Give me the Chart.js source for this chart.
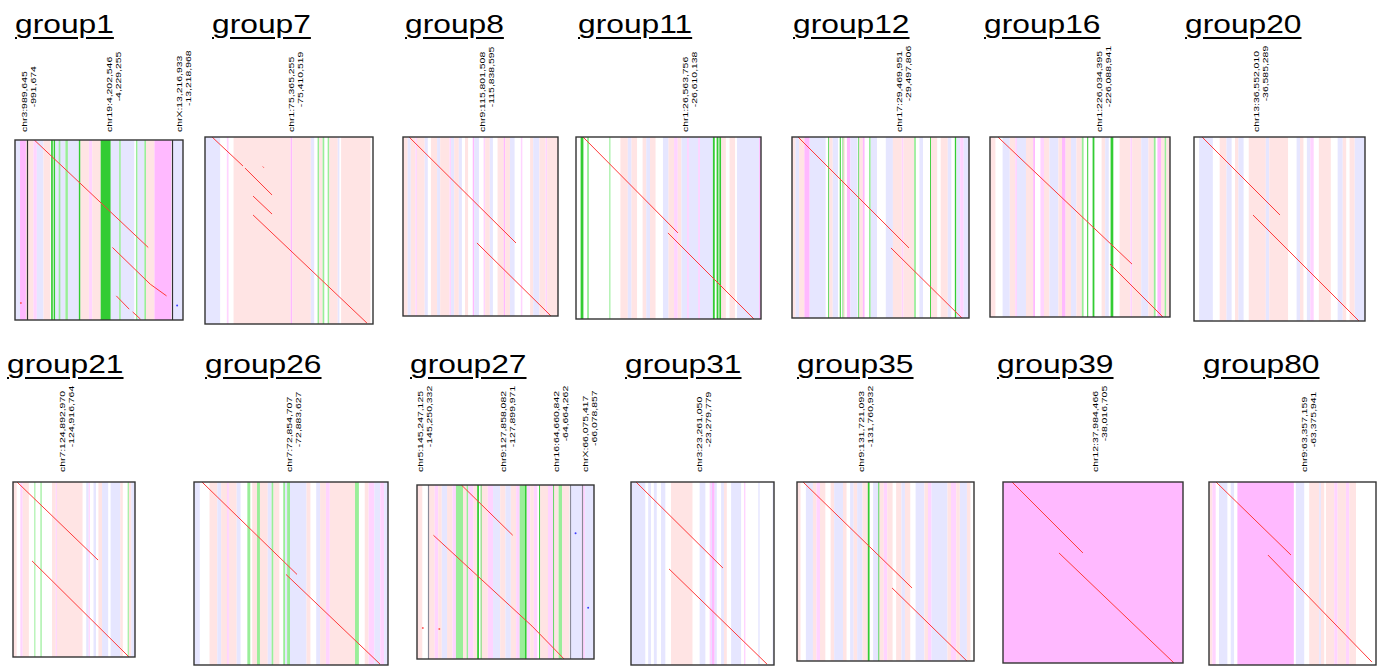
<!DOCTYPE html>
<html>
<head>
<meta charset="utf-8">
<script src="https://cdn.jsdelivr.net/npm/chart.js@4.4.1/dist/chart.umd.min.js"></script>
<style>
body{margin:0;background:#fff;width:1378px;height:667px;overflow:hidden;position:relative;font-family:"Liberation Sans",Arial,sans-serif}
.title{position:absolute;font-size:25px;line-height:25px;text-decoration:underline;text-decoration-thickness:2px;text-underline-offset:4px;transform-origin:0 0;transform:scaleX(1.27);white-space:nowrap;color:#000}
.lab{position:absolute;font-size:8px;line-height:9px;white-space:nowrap;text-align:right;transform-origin:0 0;transform:rotate(-90deg) scaleX(1.3);color:#000}
.lab div.l2{position:relative;left:4px}
canvas{position:absolute}
</style>
</head>
<body>
<script>
// ---- data ----
const groupNames = ['group1','group7','group8','group11','group12','group16','group20',
  'group21','group26','group27','group31','group35','group39','group80'];

const regionLabels = [
  [['chr3:989,645','-991,674'],['chr19:4,202,546','-4,229,255'],['chrX:13,216,933','-13,218,968']],
  [['chr1:75,365,255','-75,410,519']],
  [['chr9:115,801,508','-115,838,595']],
  [['chr1:26,563,756','-26,610,138']],
  [['chr17:29,469,951','-29,497,806']],
  [['chr1:226,034,395','-226,088,941']],
  [['chr13:36,552,010','-36,585,289']],
  [['chr7:124,892,970','-124,916,764']],
  [['chr7:72,854,707','-72,883,627']],
  [['chr5:145,247,125','-145,250,332'],['chr9:127,858,082','-127,899,971'],['chr16:64,660,842','-64,664,262'],['chrX:66,075,417','-66,078,857']],
  [['chr3:23,261,050','-23,279,779']],
  [['chr9:131,721,093','-131,760,932']],
  [['chr12:37,984,466','-38,016,705']],
  [['chr9:63,357,159','-63,375,941']]
];
// label anchor along x axis (0-100 of panel)
const regionLabelX = [[9.8,58.9,99.1],[53.9],[53.9],[61.6],[63.3],[63.1],[39.2],
  [43.9],[51.3],[6.0,51.6,80.6,96.2],[50.7],[39.0],[53.9],[59.6]];

// alignment polylines, x / y in 0-100 of panel, y from top
const alignSegments = [
  [[[11.5,0],[79.3,59.7]],[[58.0,59.7],[80.5,80.1],[90.2,86.6]],[[60.3,86.6],[68,94]],[[70,95.5],[74.7,99.5]]],
  [[[4.2,0],[22.6,15.5]],[[23.8,16.6],[39.9,31.0]],[[34.4,15.8],[35.0,16.4]],[[28.6,31.6],[39.9,41.2]],[[28.6,41.7],[96.4,99.5]]],
  [[[3.9,0],[72.9,59.2]],[[47.7,59.2],[95.5,100]]],
  [[[3.8,0],[55.1,52.7]],[[49.7,52.7],[96.2,100]]],
  [[[3.4,0],[66.1,61.3]],[[55.9,61.3],[96.0,100]]],
  [[[4.4,0],[78.9,70.6]],[[66.7,70.6],[96.1,100]]],
  [[[4.7,0],[50.3,42.4]],[[34.5,42.4],[96.5,100]]],
  [[[3.3,0],[69.7,44.6]],[[15.6,45.1],[95.1,100]]],
  [[[4.1,0],[53.1,50.5]],[[47.4,50.5],[95.9,99.5]]],
  [[[25.1,0],[54.1,28.9]],[[9.3,28.9],[52.5,69.4],[65.0,81.1],[83.1,100]]],
  [[[3.5,0],[64.3,47.0]],[[26.6,47.5],[95.1,99.5]]],
  [[[3.4,0],[65.0,59.2]],[[53.7,59.2],[96.0,100]]],
  [[[5.0,0],[44.4,39.2]],[[31.1,39.2],[95.0,100]]],
  [[[4.2,0],[49.1,39.9]],[[35.3,39.9],[97.6,98.4]]]
];

// isolated hits [x, y, colour code]
const extraDots = [
  [[3.5,90.5,'r'],[96.5,92,'b']],[],[],[],[],[],[],[],[],
  [[89.6,27.8,'b'],[96.7,70.6,'b'],[3.3,82.2,'r'],[12.6,82.8,'r']],
  [],[],[],[]
];

// chromosome break lines (x, 0-100)
const chromBreaks = [[6.9,93.7],[],[],[],[],[],[],[],[],[6.4,86.3,93.2],[],[],[],[]];
const breakColors = ['#333','','','','','','','','','#8a8a99','','','',''];

// track bands [from, to, class]
const trackBands = [
  [[0,3,'L'],[3,6.5,'M'],[6.5,11,'P'],[11,13,'m'],[13,17,'L'],[17,21,'P'],[21.5,22.5,'G'],[23,24,'G'],[24,30,'L'],[26,27,'g'],
   [30,31.5,'g'],[31.5,38,'L'],[38,39,'G'],[39,44,'P'],[44,46,'m'],[46,51,'P'],[51,57,'G'],[57,62,'L'],[62,63,'g'],[63,71,'L'],
   [72,73,'g'],[73,77,'L'],[77,78,'g'],[78,83,'P'],[83,93,'M'],[94,100,'L']],
  [[0,9,'L'],[13,14,'m'],[17,51,'P'],[51,52,'M'],[52,63,'P'],[63,65,'L'],[67,68,'g'],[68,70,'P'],[70,71,'g'],[73,74,'g'],
   [74,79,'P'],[79,80,'L'],[81,98.5,'P']],
  [[0,3,'P'],[3,5,'L'],[5,8,'P'],[8,9,'m'],[9,14,'P'],[14,16,'L'],[18,22,'P'],[22,24,'L'],[24,30,'P'],[30,31,'m'],[31,33,'L'],
   [33,36,'P'],[36,38,'L'],[40,42,'P'],[45,46,'M'],[46,49,'L'],[52,53,'m'],[53,56,'P'],[56,58,'L'],[61,65,'P'],[65,66,'M'],
   [66,69,'P'],[69,72,'L'],[76,77,'m'],[82,84,'P'],[84,88,'L'],[88,92,'P'],[92,93,'m'],[93,100,'P']],
  [[2.5,4,'G'],[6,7,'g'],[18,18.6,'g'],[24,28,'P'],[28,30,'L'],[30,33,'P'],[36,38,'P'],[38,40,'L'],[40,43,'P'],[47,50,'L'],
   [50,53,'P'],[53,55,'m'],[55,57,'P'],[57,74,'L'],[60,61,'m'],[66,67,'m'],[74,75,'G'],[76,77,'G'],[77.5,78.5,'G'],[78.5,81,'P'],
   [83,86,'P'],[87,99,'L'],[99,100,'M']],
  [[0,2,'P'],[2,4,'L'],[4,7,'P'],[7,10,'M'],[10,19,'L'],[20.5,21,'G'],[21,23,'P'],[23,26,'L'],[27,27.5,'G'],[28.6,29,'G'],
   [29,30,'P'],[31,33,'M'],[33,37,'L'],[37.5,38,'G'],[38,40,'P'],[40,41,'M'],[43.5,44.5,'g'],[44.5,48,'L'],[53,57,'L'],
   [57,62,'P'],[62,63,'m'],[63,69,'P'],[69,70,'g'],[72,74,'L'],[78,78.5,'G'],[78.5,82,'P'],[84,88,'P'],[88,90,'L'],
   [92,92.8,'G'],[93,95,'L'],[95,97,'m'],[97,100,'L']],
  [[0,3,'P'],[7,11,'L'],[11,14,'P'],[14,15,'m'],[15,20,'L'],[20,24,'P'],[24,25,'M'],[28,30,'m'],[30,33,'P'],[33,38,'L'],
   [38,40,'P'],[40,42,'M'],[42,45,'P'],[45,48,'L'],[48,51,'P'],[51,52,'g'],[54,54.5,'G'],[57,58,'G'],[62,64,'P'],[64,66,'L'],
   [67,68.5,'G'],[72,78,'P'],[78,79,'m'],[79,84,'P'],[84,88,'L'],[88,91,'P'],[91,92,'g'],[93,95,'M'],[95,97,'P'],[97,98,'g'],
   [98,100,'P']],
  [[3,11,'L'],[15,19,'P'],[19,22,'L'],[24,26,'P'],[26,29,'L'],[32,42,'P'],[42,44,'L'],[44,55,'P'],[60,62,'L'],[62,64,'P'],
   [66,68,'L'],[68,70,'m'],[73,80,'P'],[84,87,'L'],[87,89,'P'],[91,94,'P'],[94,100,'L']],
  [[0,3,'P'],[6,8,'m'],[8,13,'P'],[17.5,18.3,'g'],[22.5,23.5,'g'],[32,35,'P'],[35,36,'m'],[36,57,'P'],[60,62,'L'],[62,63,'m'],
   [66,68,'L'],[70,73,'P'],[73,78,'L'],[80,88,'L'],[88,90,'P'],[94,95,'g'],[95,97,'P'],[97,100,'L']],
  [[0,3,'L'],[8,12,'P'],[12,14,'L'],[14,17,'P'],[17,18,'m'],[18,22,'P'],[22,24,'L'],[27.5,29,'g'],[30,33,'P'],[32.5,34,'g'],
   [34,38,'P'],[38,40,'L'],[40,41,'g'],[41,44,'P'],[46,47,'g'],[47,48,'L'],[48,49.5,'g'],[49.5,58,'L'],[58,60,'P'],[63,65,'L'],
   [65,68,'P'],[68,70,'m'],[70,83,'P'],[83,85,'g'],[88,90,'P'],[90,93,'m'],[93,96,'L'],[96,98,'m'],[98,100,'L']],
  [[0,3,'P'],[6.5,10,'P'],[10,12,'m'],[12,14,'P'],[14,17,'L'],[17,20,'P'],[20,22,'m'],[22,26,'g'],[26,28,'P'],[28,29,'g'],
   [29,32,'m'],[32,34,'P'],[34,35,'G'],[36,36.5,'G'],[36.5,40,'P'],[40,43,'m'],[43,47,'L'],[47,50,'P'],[50,53,'L'],[53,56,'P'],
   [56,58,'m'],[58,61,'g'],[61,62,'G'],[62,64,'m'],[64,66,'P'],[66,68,'m'],[69,69.6,'G'],[69.6,74,'P'],[74,77,'m'],[77,77.5,'G'],
   [77.5,80,'P'],[80,82,'g'],[82,86,'P'],[87,93,'L'],[93,95,'m'],[95,100,'L']],
  [[0,10,'L'],[12,14,'L'],[16,18,'L'],[21,24,'L'],[28,43,'P'],[48,52,'L'],[55,56,'m'],[56,56.5,'L'],[56.5,58.5,'M'],[58.5,60,'L'],
   [63,65,'L'],[65,67,'P'],[70,77,'L'],[79,80,'m'],[89,90,'L'],[99,100,'L']],
  [[0,2,'P'],[5,9,'L'],[9,11,'P'],[11,13,'m'],[13,16,'P'],[19,21,'P'],[21,26,'L'],[26,28,'P'],[30,32,'L'],[32,34,'P'],[34,37,'L'],
   [37,40,'P'],[40,41,'G'],[43,46,'L'],[46,46.6,'G'],[46.6,49,'P'],[49,51,'m'],[51,54,'P'],[56,59,'P'],[59,61,'L'],[61,64,'P'],
   [67,72,'L'],[72,74,'P'],[74,76,'m'],[76,85,'L'],[85,87,'P'],[87,90,'m'],[90,92,'P'],[92,96,'L'],[96,98,'P']],
  [[0,100,'M']],
  [[0,2,'P'],[2,4,'m'],[6,11,'L'],[13,15,'L'],[17,50.8,'M'],[52,57,'L'],[60,66,'P'],[66,67,'L'],[67,69,'P'],[70,75,'P'],
   [75,77,'m'],[77,82,'P'],[82,84,'m'],[84,88,'P']]
];

// ---- layout ----
const panelBoxes = [
  [12,137,186,323],[205,137,373,324],[403,137,558,316],[576,137,761,319],[792,137,969,318],[990,137,1170,317],[1194,137,1365,321],
  [13,482,135,657],[194,482,388,665],[414,482,597,662],[631,482,774,665],[797,482,974,661],[1003,482,1183,663],[1209,482,1376,665]
];
const titleX = [15,212,405,578,793,984,1185,7,205,410,625,797,997,1203];

const bandColors = {P:'#ffe4e4',L:'#e6e6ff',M:'#ffb9ff',m:'#ffd4ff',G:'#33cc33',g:'#99ee99'};
const dotColors = {r:'#ff6060',b:'#4040ff'};

groupNames.forEach((name, i) => {
  const [L, T, R, B] = panelBoxes[i];
  const row = i < 7 ? 0 : 1;

  const t = document.createElement('div');
  t.className = 'title';
  t.textContent = name;
  t.style.left = titleX[i] + 'px';
  t.style.top = (row ? 352 : 12) + 'px';
  document.body.appendChild(t);

  regionLabels[i].forEach((lines, k) => {
    const d = document.createElement('div');
    d.className = 'lab';
    d.innerHTML = '<div>' + lines[0] + '</div><div class="l2">' + lines[1] + '</div>';
    d.style.left = (L + regionLabelX[i][k] / 100 * (R - L) - 9) + 'px';
    d.style.top = (row ? 472 : 132) + 'px';
    document.body.appendChild(d);
  });

  const c = document.createElement('canvas');
  c.width = R - L + 2;
  c.height = B - T + 2;
  c.style.left = (L - 1) + 'px';
  c.style.top = (T - 1) + 'px';
  document.body.appendChild(c);

  const bands = trackBands[i];
  const breaks = chromBreaks[i];
  const panelPlugin = {
    id: 'panel' + i,
    beforeDatasetsDraw(chart) {
      const ctx = chart.ctx, a = chart.chartArea, x = chart.scales.x;
      ctx.save();
      bands.forEach(b => {
        const x0 = x.getPixelForValue(b[0]), x1 = x.getPixelForValue(b[1]);
        ctx.fillStyle = bandColors[b[2]];
        ctx.fillRect(x0, a.top, Math.max(1, x1 - x0), a.bottom - a.top);
      });
      ctx.strokeStyle = breakColors[i];
      ctx.lineWidth = 1.2;
      breaks.forEach(v => {
        const px = Math.round(x.getPixelForValue(v)) + 0.5;
        ctx.beginPath(); ctx.moveTo(px, a.top); ctx.lineTo(px, a.bottom); ctx.stroke();
      });
      ctx.restore();
    },
    afterDraw(chart) {
      const ctx = chart.ctx, a = chart.chartArea;
      ctx.save();
      ctx.strokeStyle = '#333';
      ctx.lineWidth = 1.4;
      ctx.strokeRect(a.left, a.top, a.right - a.left, a.bottom - a.top);
      ctx.restore();
    }
  };

  const datasets = alignSegments[i].map(s => ({
    data: s.map(p => ({x: p[0], y: p[1]})),
    showLine: true, borderColor: '#ff3a3a', borderWidth: 1, pointRadius: 0, tension: 0
  }));
  extraDots[i].forEach(d => datasets.push({
    data: [{x: d[0], y: d[1]}], pointRadius: 1, pointBorderWidth: 0,
    pointBackgroundColor: dotColors[d[2]], showLine: false
  }));

  new Chart(c, {
    type: 'scatter',
    data: {datasets},
    options: {
      responsive: false, animation: false, events: [],
      layout: {padding: 1},
      plugins: {legend: {display: false}, tooltip: {enabled: false}},
      scales: {
        x: {type: 'linear', min: 0, max: 100, display: false},
        y: {type: 'linear', min: 0, max: 100, reverse: true, display: false}
      }
    },
    plugins: [panelPlugin]
  });
});
</script>
</body>
</html>
